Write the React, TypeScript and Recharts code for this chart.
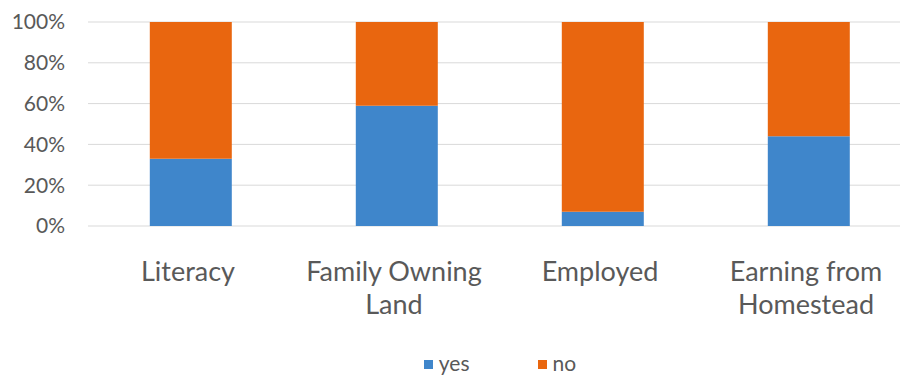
import React from "react";
import {
  BarChart,
  Bar,
  XAxis,
  YAxis,
  CartesianGrid,
  Legend,
} from "recharts";

const categories = [
  "Literacy",
  "Family Owning Land",
  "Employed",
  "Earning from Homestead",
];
const yesValues = [33, 59, 7, 44];
const noValues = [67, 41, 93, 56];
const yTicks = [0, 20, 40, 60, 80, 100];

const BLUE = "#3F86CB";
const ORANGE = "#E9660F";
const TEXT = "#595959";
const FONT = "Lato, 'Open Sans', sans-serif";

const data = categories.map((name, i) => ({
  name,
  yes: yesValues[i],
  no: noValues[i],
}));

// break long labels onto two lines, Excel-style
function wrap(label: string, max = 14) {
  const lines: string[] = [];
  let cur = "";
  for (const w of label.split(" ")) {
    const next = cur ? `${cur} ${w}` : w;
    if (next.length > max && cur) {
      lines.push(cur);
      cur = w;
    } else {
      cur = next;
    }
  }
  if (cur) lines.push(cur);
  return lines;
}

function CategoryTick(props: any) {
  const { x, y, payload } = props;
  const lines = wrap(payload.value);
  return (
    <text
      x={x}
      y={y}
      textAnchor="middle"
      fill={TEXT}
      fontSize={27}
      fontFamily={FONT}
    >
      {lines.map((l, i) => (
        <tspan key={i} x={x - 3} dy={i === 0 ? 53 : 33}>
          {l}
        </tspan>
      ))}
    </text>
  );
}

function LegendContent() {
  const items = [
    { label: "yes", color: BLUE },
    { label: "no", color: ORANGE },
  ];
  return (
    <div
      style={{
        height: 29,
        display: "flex",
        justifyContent: "center",
        alignItems: "center",
        gap: 68,
        fontFamily: FONT,
        fontSize: 21,
        color: TEXT,
        paddingTop: 2,
      }}
    >
      {items.map((it) => (
        <div key={it.label} style={{ display: "flex", alignItems: "center" }}>
          <span
            style={{
              width: 9,
              height: 9,
              background: it.color,
              marginRight: 6,
              marginTop: 3,
              display: "inline-block",
            }}
          />
          <span>{it.label}</span>
        </div>
      ))}
    </div>
  );
}

export default function App() {
  return (
    <div
      style={{
        position: "absolute",
        left: 0,
        top: 0,
        width: 900,
        height: 377,
        overflow: "hidden",
        background: "#fff",
      }}
    >
      <BarChart
        width={914}
        height={377}
        data={data}
        margin={{ top: 22, right: 2, bottom: 0, left: 0 }}
        barCategoryGap="30%"
      >
        <CartesianGrid vertical={false} stroke="#D9D9D9" />
        <XAxis
          dataKey="name"
          axisLine={false}
          tickLine={false}
          tickSize={0}
          height={120}
          interval={0}
          tick={<CategoryTick />}
        />
        <YAxis
          domain={[0, 100]}
          ticks={yTicks}
          width={88}
          axisLine={false}
          tickLine={false}
          tickSize={0}
          tickMargin={23}
          tickFormatter={(v: number) => `${v}%`}
          tick={{ fill: TEXT, fontSize: 21, fontFamily: FONT }}
        />
        <Legend
          verticalAlign="bottom"
          wrapperStyle={{ left: 88, width: 824 }}
          content={<LegendContent />}
        />
        <Bar dataKey="yes" stackId="a" fill={BLUE} isAnimationActive={false} />
        <Bar dataKey="no" stackId="a" fill={ORANGE} isAnimationActive={false} />
      </BarChart>
    </div>
  );
}
